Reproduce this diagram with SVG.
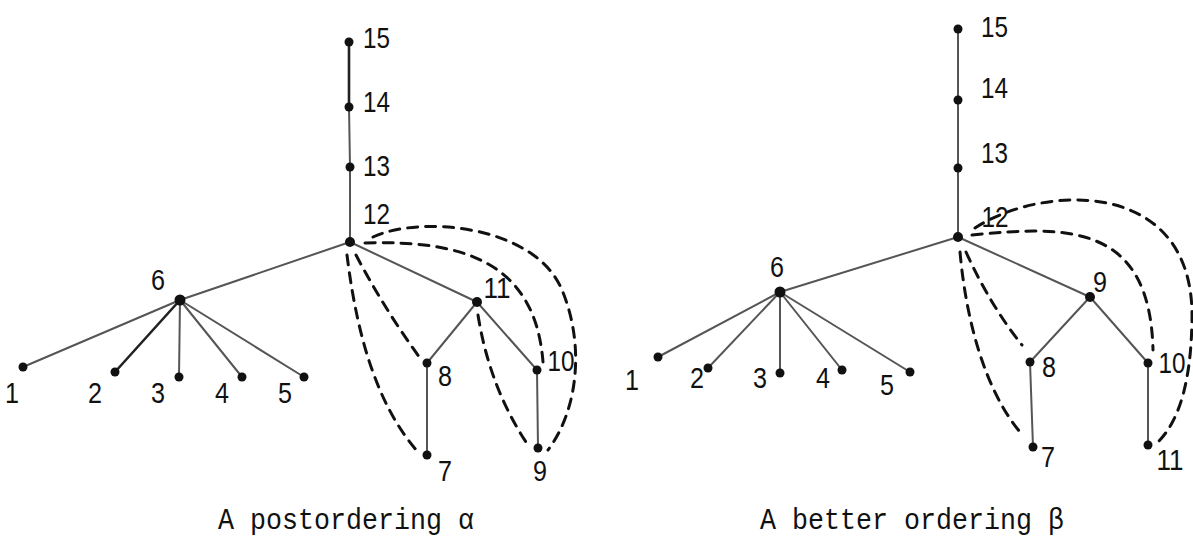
<svg xmlns="http://www.w3.org/2000/svg" width="1193" height="538" viewBox="0 0 1193 538">
<style>
.e{stroke:#555;stroke-width:2;fill:none;stroke-linecap:round}
.k{stroke:#222;stroke-width:2.6;fill:none;stroke-linecap:round}
.d{stroke:#111;stroke-width:3;fill:none;stroke-dasharray:10 8;stroke-linecap:round}
.n{fill:#111}
.l{font-family:"Liberation Sans",Arial,sans-serif;font-size:29px;fill:#111}
.c{font-family:"Liberation Mono","DejaVu Sans Mono",monospace;font-size:27px;fill:#111}
</style>
<rect width="1193" height="538" fill="#fff"/>
<g id="connectors">
<line class="k" x1="349" y1="42" x2="349" y2="107"/>
<line class="e" x1="349" y1="107" x2="350" y2="167"/>
<line class="e" x1="350" y1="167" x2="350" y2="242"/>
<line class="e" x1="350" y1="242" x2="180" y2="300"/>
<line class="e" x1="350" y1="242" x2="477" y2="302"/>
<line class="e" x1="180" y1="300" x2="23" y2="367"/>
<line class="k" x1="180" y1="300" x2="115" y2="372"/>
<line class="e" x1="180" y1="300" x2="179" y2="377"/>
<line class="e" x1="180" y1="300" x2="242" y2="377"/>
<line class="e" x1="180" y1="300" x2="304" y2="377"/>
<line class="e" x1="477" y1="302" x2="427" y2="363"/>
<line class="e" x1="477" y1="302" x2="537" y2="370"/>
<line class="e" x1="427" y1="363" x2="427" y2="455"/>
<line class="e" x1="537" y1="370" x2="538" y2="448"/>
<path class="d" d="M347,255 C355,320 372,400 418,452"/>
<path class="d" d="M356,255 Q385,310 420,358"/>
<path class="d" d="M478,315 Q490,390 530,448"/>
<path class="d" d="M365,243 C460,240 535,260 543,362"/>
<path class="d" d="M373,237 C420,215 535,225 562,290 C585,345 578,410 548,450"/>
<line class="e" x1="958" y1="29" x2="958" y2="100"/>
<line class="e" x1="958" y1="100" x2="958" y2="168"/>
<line class="e" x1="958" y1="168" x2="958" y2="237"/>
<line class="e" x1="958" y1="237" x2="780" y2="292"/>
<line class="e" x1="958" y1="237" x2="1090" y2="297"/>
<line class="e" x1="780" y1="292" x2="658" y2="357"/>
<line class="e" x1="780" y1="292" x2="708" y2="368"/>
<line class="e" x1="780" y1="292" x2="780" y2="373"/>
<line class="e" x1="780" y1="292" x2="842" y2="370"/>
<line class="e" x1="780" y1="292" x2="910" y2="372"/>
<line class="e" x1="1090" y1="297" x2="1030" y2="362"/>
<line class="e" x1="1090" y1="297" x2="1148" y2="363"/>
<line class="e" x1="1030" y1="362" x2="1033" y2="447"/>
<line class="e" x1="1148" y1="363" x2="1148" y2="445"/>
<path class="d" d="M960,252 C966,320 985,390 1020,432"/>
<path class="d" d="M966,252 Q990,305 1022,345"/>
<path class="d" d="M972,235 C1070,225 1150,225 1153,350"/>
<path class="d" d="M975,228 C1040,185 1195,175 1192,320 C1191,380 1180,420 1158,442"/>
</g>
<g id="left-tree">
<g id="a15"><circle class="n" cx="349" cy="42" r="4.5"/><text class="l" x="363" y="48" textLength="27" lengthAdjust="spacingAndGlyphs">15</text></g>
<g id="a14"><circle class="n" cx="349" cy="107" r="4.5"/><text class="l" x="363" y="112" textLength="27" lengthAdjust="spacingAndGlyphs">14</text></g>
<g id="a13"><circle class="n" cx="350" cy="167" r="4.5"/><text class="l" x="363" y="176" textLength="27" lengthAdjust="spacingAndGlyphs">13</text></g>
<g id="a12"><circle class="n" cx="350" cy="242" r="5"/><text class="l" x="363" y="224" textLength="27" lengthAdjust="spacingAndGlyphs">12</text></g>
<g id="a6"><circle class="n" cx="180" cy="300" r="5.5"/><text class="l" x="158" y="290" text-anchor="middle" textLength="14" lengthAdjust="spacingAndGlyphs">6</text></g>
<g id="a1"><circle class="n" cx="23" cy="367" r="4.5"/><text class="l" x="12" y="403" text-anchor="middle" textLength="14" lengthAdjust="spacingAndGlyphs">1</text></g>
<g id="a2"><circle class="n" cx="115" cy="372" r="4.5"/><text class="l" x="95" y="403" text-anchor="middle" textLength="14" lengthAdjust="spacingAndGlyphs">2</text></g>
<g id="a3"><circle class="n" cx="179" cy="377" r="4.5"/><text class="l" x="158" y="403" text-anchor="middle" textLength="14" lengthAdjust="spacingAndGlyphs">3</text></g>
<g id="a4"><circle class="n" cx="242" cy="377" r="4.5"/><text class="l" x="222" y="403" text-anchor="middle" textLength="14" lengthAdjust="spacingAndGlyphs">4</text></g>
<g id="a5"><circle class="n" cx="304" cy="377" r="4.5"/><text class="l" x="285" y="403" text-anchor="middle" textLength="14" lengthAdjust="spacingAndGlyphs">5</text></g>
<g id="a11"><circle class="n" cx="477" cy="302" r="5"/><text class="l" x="497" y="298" text-anchor="middle" textLength="27" lengthAdjust="spacingAndGlyphs">11</text></g>
<g id="a8"><circle class="n" cx="427" cy="363" r="4.5"/><text class="l" x="445" y="386" text-anchor="middle" textLength="14" lengthAdjust="spacingAndGlyphs">8</text></g>
<g id="a10"><circle class="n" cx="537" cy="370" r="4.5"/><text class="l" x="561" y="371" text-anchor="middle" textLength="27" lengthAdjust="spacingAndGlyphs">10</text></g>
<g id="a7"><circle class="n" cx="427" cy="455" r="4.5"/><text class="l" x="445" y="481" text-anchor="middle" textLength="14" lengthAdjust="spacingAndGlyphs">7</text></g>
<g id="a9"><circle class="n" cx="538" cy="448" r="4.5"/><text class="l" x="540" y="481" text-anchor="middle" textLength="14" lengthAdjust="spacingAndGlyphs">9</text></g>
<text id="caption-a" class="c" transform="translate(218,529) scale(1,1.12)" textLength="256" lengthAdjust="spacingAndGlyphs">A postordering α</text>
</g>
<g id="right-tree">
<g id="b15"><circle class="n" cx="958" cy="29" r="4.5"/><text class="l" x="981" y="37" textLength="27" lengthAdjust="spacingAndGlyphs">15</text></g>
<g id="b14"><circle class="n" cx="958" cy="100" r="4.5"/><text class="l" x="981" y="98" textLength="27" lengthAdjust="spacingAndGlyphs">14</text></g>
<g id="b13"><circle class="n" cx="958" cy="168" r="4.5"/><text class="l" x="981" y="163" textLength="27" lengthAdjust="spacingAndGlyphs">13</text></g>
<g id="b12"><circle class="n" cx="958" cy="237" r="5"/><text class="l" x="995" y="227" text-anchor="middle" textLength="27" lengthAdjust="spacingAndGlyphs">12</text></g>
<g id="b6"><circle class="n" cx="780" cy="292" r="5.5"/><text class="l" x="777" y="277" text-anchor="middle" textLength="14" lengthAdjust="spacingAndGlyphs">6</text></g>
<g id="b1"><circle class="n" cx="658" cy="357" r="4.5"/><text class="l" x="632" y="390" text-anchor="middle" textLength="14" lengthAdjust="spacingAndGlyphs">1</text></g>
<g id="b2"><circle class="n" cx="708" cy="368" r="4.5"/><text class="l" x="697" y="388" text-anchor="middle" textLength="14" lengthAdjust="spacingAndGlyphs">2</text></g>
<g id="b3"><circle class="n" cx="780" cy="373" r="4.5"/><text class="l" x="760" y="388" text-anchor="middle" textLength="14" lengthAdjust="spacingAndGlyphs">3</text></g>
<g id="b4"><circle class="n" cx="842" cy="370" r="4.5"/><text class="l" x="823" y="388" text-anchor="middle" textLength="14" lengthAdjust="spacingAndGlyphs">4</text></g>
<g id="b5"><circle class="n" cx="910" cy="372" r="4.5"/><text class="l" x="887" y="395" text-anchor="middle" textLength="14" lengthAdjust="spacingAndGlyphs">5</text></g>
<g id="b9"><circle class="n" cx="1090" cy="297" r="5"/><text class="l" x="1100" y="292" text-anchor="middle" textLength="14" lengthAdjust="spacingAndGlyphs">9</text></g>
<g id="b8"><circle class="n" cx="1030" cy="362" r="4.5"/><text class="l" x="1049" y="377" text-anchor="middle" textLength="14" lengthAdjust="spacingAndGlyphs">8</text></g>
<g id="b10"><circle class="n" cx="1148" cy="363" r="4.5"/><text class="l" x="1172" y="373" text-anchor="middle" textLength="27" lengthAdjust="spacingAndGlyphs">10</text></g>
<g id="b7"><circle class="n" cx="1033" cy="447" r="4.5"/><text class="l" x="1048" y="467" text-anchor="middle" textLength="14" lengthAdjust="spacingAndGlyphs">7</text></g>
<g id="b11"><circle class="n" cx="1148" cy="445" r="4.5"/><text class="l" x="1170" y="470" text-anchor="middle" textLength="27" lengthAdjust="spacingAndGlyphs">11</text></g>
<text id="caption-b" class="c" transform="translate(760,529) scale(1,1.12)" textLength="304" lengthAdjust="spacingAndGlyphs">A better ordering β</text>
</g>
</svg>
